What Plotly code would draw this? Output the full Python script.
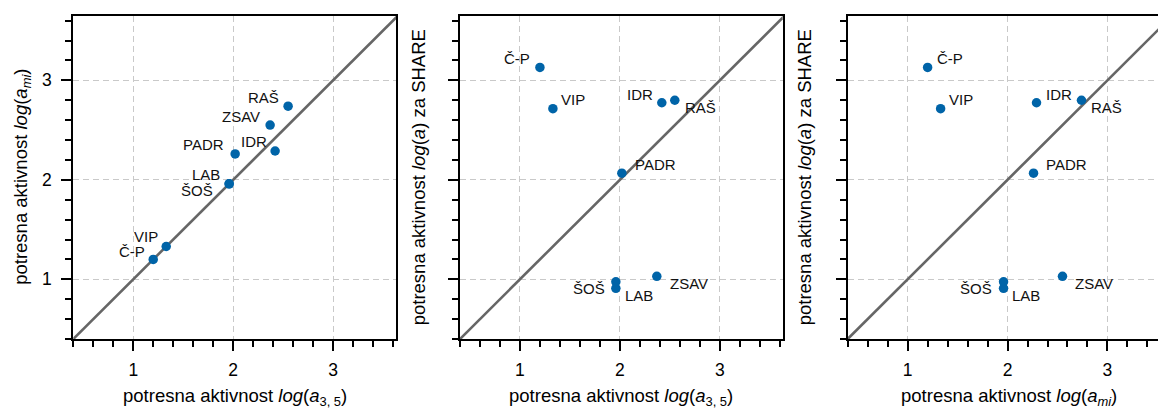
import plotly.graph_objects as go

# ---------------- data ----------------
names = ["Č-P", "VIP", "LAB", "ŠOŠ", "PADR", "IDR", "ZSAV", "RAŠ"]
log_a35 = [1.20, 1.33, 1.96, 1.96, 2.02, 2.42, 2.37, 2.55]
log_ami = [1.20, 1.33, 1.96, 1.96, 2.26, 2.29, 2.55, 2.74]
log_share = [3.13, 2.715, 0.91, 0.975, 2.067, 2.775, 1.03, 2.80]
major_ticks = [1, 2, 3]
tick_labels = ["1", "2", "3"]
diag = [0, 5]

W, H = 1158, 410
FONT = "Liberation Sans, Arial, sans-serif"
BLUE = "#0064a8"

# panel geometry (pixels)
panels = [
    dict(x0=73.3, x1=396.0, xr=[0.4, 3.63]),
    dict(x0=460.0, x1=782.7, xr=[0.4, 3.63]),
    dict(x0=847.7, x1=1158.0, xr=[0.4, 3.506]),
]
y_top, y_bot = 15.7, 339.0
yr = [0.4, 3.65]

panel_data = [
    (log_a35, log_ami),
    (log_a35, log_share),
    (log_ami, log_share),
]

# label placement per panel: name -> (anchor, dx, dy) in screen px (dy down)
label_pos = [
    {"Č-P": ("right", -6, -8), "VIP": ("right", -6, -9.5), "LAB": ("right", -7, -9),
     "ŠOŠ": ("right", -14, 6.7), "PADR": ("right", -9, -9.3), "IDR": ("right", -6, -9),
     "ZSAV": ("right", -8.6, -8.6), "RAŠ": ("right", -7, -9)},
    {"Č-P": ("right", -7.6, -9.4), "VIP": ("left", 6.3, -9.7), "LAB": ("left", 7.3, 7.4),
     "ŠOŠ": ("right", -9.3, 6.7), "PADR": ("left", 11.3, -9), "IDR": ("right", -7.3, -8.7),
     "ZSAV": ("left", 10.7, 7), "RAŠ": ("left", 8.3, 7.6)},
    {"Č-P": ("left", 7.3, -9.4), "VIP": ("left", 6, -9.7), "LAB": ("left", 6.7, 7.4),
     "ŠOŠ": ("right", -9.3, 6.7), "PADR": ("left", 10.7, -9), "IDR": ("left", 7.3, -8.7),
     "ZSAV": ("left", 10.3, 7), "RAŠ": ("left", 7.3, 7.6)},
]

x_titles = [
    "potresna aktivnost <i>log</i>(<i>a</i><sub>3, 5</sub>)",
    "potresna aktivnost <i>log</i>(<i>a</i><sub>3, 5</sub>)",
    "potresna aktivnost <i>log</i>(<i>a</i><sub><i>mi</i></sub>)",
]
y_titles = [
    "potresna aktivnost <i>log</i>(<i>a</i><sub><i>mi</i></sub>)",
    "potresna aktivnost <i>log</i>(<i>a</i>) za SHARE",
    "potresna aktivnost <i>log</i>(<i>a</i>) za SHARE",
]
x_title_cx = [234.7, 621.3, 1009.0]
y_title_cx = [22.5, 418.0, 804.0]

fig = go.Figure()
annotations = []
ydom = [1 - y_bot / H, 1 - y_top / H]

for i, (p, (xs, ys)) in enumerate(zip(panels, panel_data)):
    n = "" if i == 0 else str(i + 1)
    xa, ya = "x" + n, "y" + n
    # diagonal
    fig.add_trace(go.Scatter(x=diag, y=diag, mode="lines", xaxis=xa, yaxis=ya,
                             line=dict(color="#666666", width=2.6),
                             hoverinfo="skip", showlegend=False))
    fig.add_trace(go.Scatter(x=xs, y=ys, mode="markers", xaxis=xa, yaxis=ya,
                             marker=dict(color=BLUE, size=9.5, line=dict(width=0)),
                             text=names, showlegend=False))
    for nm, xv, yv in zip(names, xs, ys):
        anc, dx, dy = label_pos[i][nm]
        annotations.append(dict(x=xv, y=yv, xref=xa, yref=ya, text=nm, showarrow=False,
                                xanchor=anc, yanchor="middle", xshift=dx, yshift=-dy,
                                font=dict(family=FONT, size=15, color="#111111")))
    common = dict(showline=True, linewidth=2.2, linecolor="black",
                  ticks="outside", ticklen=10, tickwidth=2, tickcolor="black",
                  showgrid=True, gridcolor="#c9c9c9", gridwidth=1, griddash="6px,4px",
                  zeroline=False, tickvals=major_ticks, ticktext=tick_labels,
                  tickfont=dict(family=FONT, size=17.5, color="black"),
                  minor=dict(dtick=0.2, tick0=0, ticks="outside", ticklen=6,
                             tickwidth=1.5, tickcolor="black", showgrid=False))
    xlay = dict(common, domain=[p["x0"] / W, p["x1"] / W], range=p["xr"],
                anchor=ya, mirror=True, ticklabelstandoff=4)
    ylay = dict(common, domain=ydom, range=yr, anchor=xa,
                mirror=(i < 2), showticklabels=(i == 0), ticklabelstandoff=6)
    fig.update_layout(**{"xaxis" + n: xlay, "yaxis" + n: ylay})
    annotations.append(dict(x=x_title_cx[i] / W, y=1 - 396.5 / H, xref="paper", yref="paper",
                            text=x_titles[i], showarrow=False, xanchor="center",
                            yanchor="middle",
                            font=dict(family=FONT, size=18.5, color="black")))
    annotations.append(dict(x=y_title_cx[i] / W, y=1 - 177.3 / H, xref="paper", yref="paper",
                            text=y_titles[i], showarrow=False, textangle=-90,
                            xanchor="center", yanchor="middle",
                            font=dict(family=FONT, size=18.5, color="black")))

fig.update_layout(width=W, height=H, margin=dict(l=0, r=0, t=0, b=0),
                  plot_bgcolor="white", paper_bgcolor="white",
                  annotations=annotations, showlegend=False)

fig.write_html("out.html")
